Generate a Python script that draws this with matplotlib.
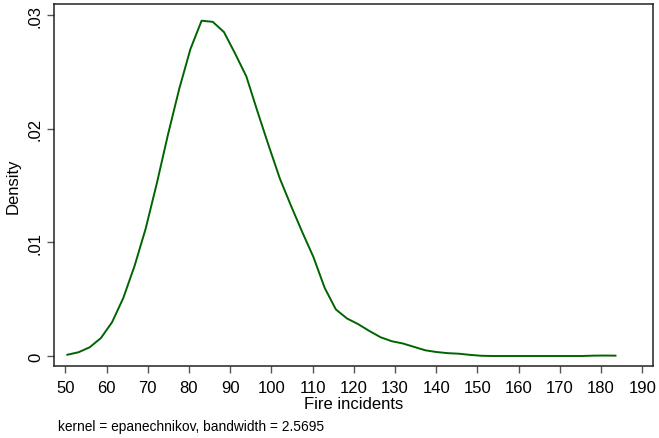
import numpy as np
import matplotlib
matplotlib.use("Agg")
import matplotlib.pyplot as plt

plt.rcParams['font.family'] = ['Liberation Sans', 'DejaVu Sans']

# kernel density estimate of fire incidents (50 evaluation points)
grid = np.linspace(50.5, 183.5, 50)
density = [
    0.00011, 0.00033, 0.00077, 0.00158, 0.00298, 0.0051, 0.0079, 0.0112,
    0.0152, 0.0195, 0.0235, 0.0270, 0.0295, 0.0294, 0.0285, 0.0266,
    0.0246, 0.0215, 0.0185, 0.0156, 0.0132, 0.0109, 0.0087, 0.0060,
    0.0041, 0.0033, 0.0028, 0.0022, 0.00165, 0.0013, 0.0011, 0.0008,
    0.0005, 0.00035, 0.00025, 0.0002, 0.0001, 0.00002, 0.0, 0.0,
    0.0, 0.0, 0.0, 0.0, 0.0, 0.0, 0.0, 0.00003, 0.00004, 0.00003,
]
xticks = list(range(50, 191, 10))
yticks = [0, 0.01, 0.02, 0.03]
ylabels = ['0', '.01', '.02', '.03']

fig = plt.figure(figsize=(6.59, 4.39), dpi=100)
ax = fig.add_axes([54 / 659, 1 - 367 / 439, (653 - 54) / 659, (367 - 5) / 439])
ax.plot(grid, density, color='#006400', lw=1.4)

ax.set_xlim(47.26, 192.6)
ax.set_ylim(-0.00088, 0.03097)
ax.set_xticks(xticks)
ax.set_yticks(yticks)
ax.set_yticklabels(ylabels, rotation=90, va='center')
ax.tick_params(direction='out', length=5, width=1, color='#555555',
               labelsize=12, pad=3)
ax.tick_params(axis='x', pad=5)
for s in ax.spines.values():
    s.set_linewidth(1.1)
    s.set_color('#222222')

ax.set_xlabel('Fire incidents', fontsize=12, labelpad=1)
ax.set_ylabel('Density', fontsize=12, labelpad=5)
fig.text(58 / 659, 1 - 427 / 439, 'kernel = epanechnikov, bandwidth = 2.5695',
         fontsize=9.9, va='center', ha='left')

fig.savefig('out.png', dpi=100)
